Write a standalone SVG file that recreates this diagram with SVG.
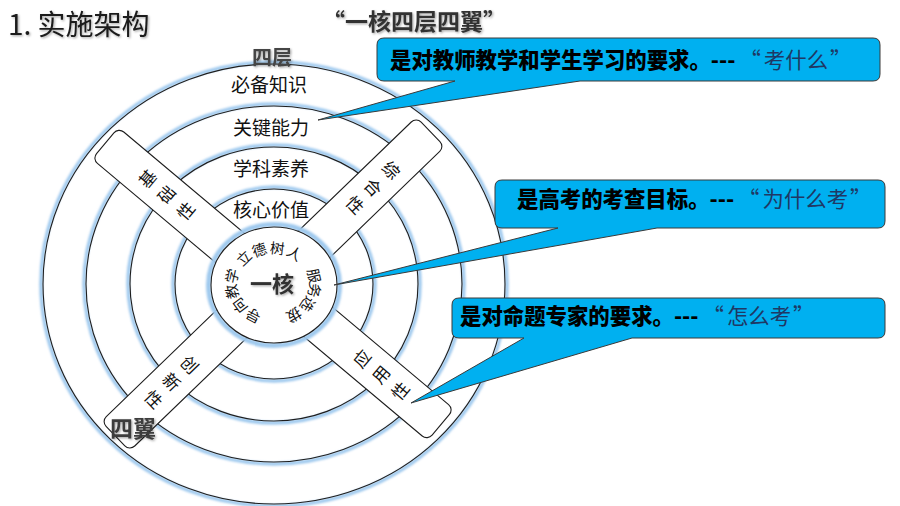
<svg xmlns="http://www.w3.org/2000/svg" width="900" height="506" viewBox="0 0 900 506">
<defs>
<style>
.cjk{font-family:"Noto Sans CJK SC","Noto Sans",sans-serif}
.ring{fill:none;stroke:#1e1e1e;stroke-width:1.1}
.glow{fill:none;stroke:#9fc9ee;stroke-width:3.5;filter:url(#blur)}
.layer{font-family:"Noto Sans CJK SC",sans-serif;font-size:19px;fill:#111;text-anchor:middle}
.bar{fill:#fff;stroke:#1e1e1e;stroke-width:1.1}
.bt{font-family:"Noto Sans CJK SC",sans-serif;font-size:17px;fill:#111;text-anchor:middle;dominant-baseline:central}
.ct{font-family:"Noto Sans CJK SC",sans-serif;font-size:14.5px;fill:#111;text-anchor:middle;dominant-baseline:central}
.call{fill:#00B0F0;stroke:#3a3a3a;stroke-width:1}
.cmain{font-family:"Noto Sans CJK SC",sans-serif;font-size:21.4px;font-weight:900;fill:#000}
.cq{font-weight:normal;fill:#1f3864}
.head{font-family:"Noto Sans CJK SC",sans-serif;font-weight:bold;filter:url(#tsh)}
</style>
<filter id="blur" x="-10%" y="-10%" width="120%" height="120%"><feGaussianBlur stdDeviation="1.1"/></filter>
<filter id="tsh" x="-10%" y="-20%" width="120%" height="150%"><feDropShadow dx="1.2" dy="1.2" stdDeviation="0.8" flood-color="#000" flood-opacity="0.35"/></filter>
</defs>
<rect width="900" height="506" fill="#fff"/>

<g id="title">
<text x="8" y="35" class="cjk" style="font-size:28px;fill:#1a1a1a;filter:url(#tsh)">1. 实施架构</text>
</g>
<g id="subtitle">
<text x="414" y="30" class="head" style="font-size:23px;fill:#333;text-anchor:middle">“一核四层四翼”</text>
</g>

<g id="rings">
<ellipse class="glow" cx="274" cy="284" rx="233" ry="222"/>
<ellipse class="ring" cx="274" cy="284" rx="231" ry="220"/>
<ellipse class="glow" cx="274" cy="284" rx="190" ry="180"/>
<ellipse class="ring" cx="274" cy="284" rx="188" ry="178"/>
<ellipse class="glow" cx="274" cy="284" rx="146" ry="139"/>
<ellipse class="ring" cx="274" cy="284" rx="144" ry="137"/>
<ellipse class="glow" cx="274" cy="284" rx="101" ry="97"/>
<ellipse class="ring" cx="274" cy="284" rx="99" ry="95"/>
</g>

<g id="layers">
<text class="layer" x="269" y="92">必备知识</text>
<text class="layer" x="271" y="135">关键能力</text>
<text class="layer" x="271" y="176">学科素养</text>
<text class="layer" x="271" y="217">核心价值</text>
</g>

<g id="wing-jichu" transform="translate(273,284) rotate(40)">
<rect class="bar" x="-219" y="-20.5" width="249" height="41" rx="7"/>
<text class="bt" transform="translate(-165,0) rotate(-90)">基</text>
<text class="bt" transform="translate(-140,0) rotate(-90)">础</text>
<text class="bt" transform="translate(-115,0) rotate(-90)">性</text>
</g>
<g id="wing-yingyong" transform="translate(273,284) rotate(40)">
<rect class="bar" x="-30" y="-20.5" width="249" height="41" rx="7"/>
<text class="bt" transform="translate(115,0) rotate(-90)">应</text>
<text class="bt" transform="translate(140,0) rotate(-90)">用</text>
<text class="bt" transform="translate(165,0) rotate(-90)">性</text>
</g>
<g id="wing-zonghe" transform="translate(273,284) rotate(-44)">
<rect class="bar" x="-30" y="-20.5" width="249" height="41" rx="7"/>
<text class="bt" transform="translate(165,0) rotate(90)">综</text>
<text class="bt" transform="translate(140,0) rotate(90)">合</text>
<text class="bt" transform="translate(115,0) rotate(90)">性</text>
</g>
<g id="wing-chuangxin" transform="translate(273,284) rotate(-44)">
<rect class="bar" x="-219" y="-20.5" width="249" height="41" rx="7"/>
<text class="bt" transform="translate(-115,0) rotate(90)">创</text>
<text class="bt" transform="translate(-140,0) rotate(90)">新</text>
<text class="bt" transform="translate(-165,0) rotate(90)">性</text>
</g>

<g id="core">
<ellipse class="glow" cx="274" cy="285" rx="65.5" ry="60.5" style="stroke-width:5"/>
<ellipse cx="274" cy="285" rx="63" ry="58" fill="#fff" stroke="#1e1e1e" stroke-width="1.1"/>
<text x="272" y="292" class="head" style="font-size:22px;fill:#333;text-anchor:middle">一核</text>
<text class="ct" transform="translate(243.1,257.4) rotate(-44)">立</text>
<text class="ct" transform="translate(259,249) rotate(-19)">德</text>
<text class="ct" transform="translate(277.5,247.2) rotate(6)">树</text>
<text class="ct" transform="translate(295.1,252.3) rotate(31)">人</text>
<text class="ct" transform="translate(314.9,275.7) rotate(77)">服</text>
<text class="ct" transform="translate(315.4,290.4) rotate(100)">务</text>
<text class="ct" transform="translate(308.6,304.7) rotate(124)">选</text>
<text class="ct" transform="translate(294.5,316) rotate(150)">拔</text>
<text class="ct" transform="translate(252.8,316.7) rotate(208)">导</text>
<text class="ct" transform="translate(238.6,306.3) rotate(233)">向</text>
<text class="ct" transform="translate(231,291.7) rotate(258)">教</text>
<text class="ct" transform="translate(231.1,275.7) rotate(283)">学</text>
</g>

<g id="label-sieng">
<text x="272" y="65" class="head" style="font-size:20px;fill:#444;text-anchor:middle">四层</text>
</g>
<g id="label-siyi">
<text x="133" y="437" class="head" style="font-size:23px;fill:#3c3c3c;text-anchor:middle">四翼</text>
</g>

<g id="callout-1">
<path class="call" d="M384,38 H873 Q880,38 880,45 V74 Q880,81 873,81 H580 L318,120 L455,81 H384 Q377,81 377,74 V45 Q377,38 384,38 Z"/>
<text class="cmain" x="390" y="68">是对教师教学和学生学习的要求。---<tspan class="cq" dx="4">“</tspan><tspan class="cq" dx="3">考什么</tspan><tspan class="cq" dx="2">”</tspan></text>
</g>
<g id="callout-2">
<path class="call" d="M502,180 H878 Q885,180 885,187 V221 Q885,228 878,228 H657 L334,285 L558,228 H502 Q495,228 495,221 V187 Q495,180 502,180 Z"/>
<text class="cmain" x="517" y="207">是高考的考查目标。---<tspan class="cq" dx="4">“</tspan><tspan class="cq" dx="3">为什么考</tspan><tspan class="cq" dx="2">”</tspan></text>
</g>
<g id="callout-3">
<path class="call" d="M459,298 H878 Q885,298 885,305 V331 Q885,338 878,338 H632 L411,403 L524,338 H459 Q452,338 452,331 V305 Q452,298 459,298 Z"/>
<text class="cmain" x="460" y="324">是对命题专家的要求。---<tspan class="cq" dx="4">“</tspan><tspan class="cq" dx="3">怎么考</tspan><tspan class="cq" dx="2">”</tspan></text>
</g>
</svg>
